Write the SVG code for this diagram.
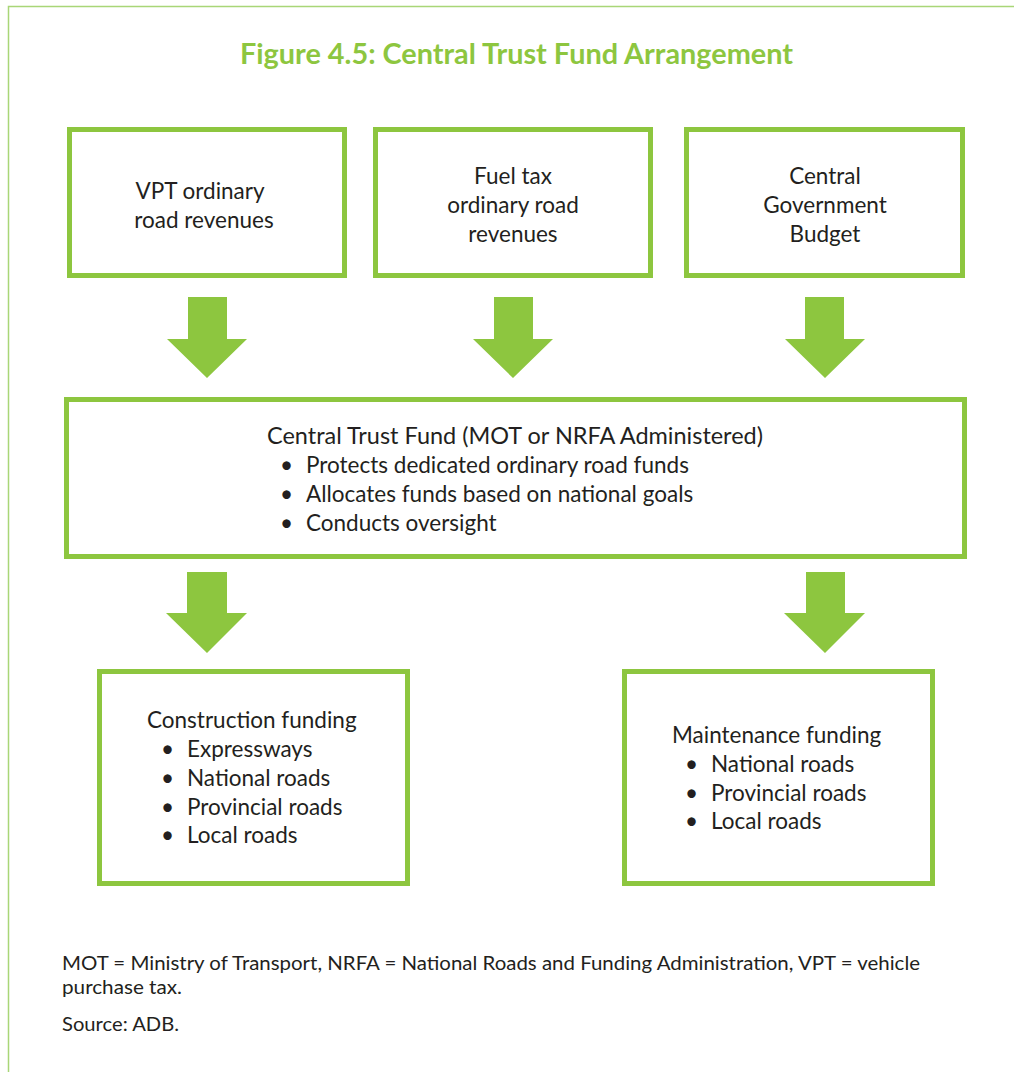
<svg xmlns="http://www.w3.org/2000/svg" width="1014" height="1072" viewBox="0 0 1014 1072">
  <style>
    .frame { fill: none; stroke: #a9d677; stroke-width: 1.5; }
    .box { fill: #ffffff; stroke: #8dc63f; stroke-width: 5; }
    .arrow { fill: #8dc63f; }
    .title { font-family: Lato, "Open Sans", sans-serif; font-weight: bold; font-size: 28.5px; fill: #8dc63f; }
    .label { font-family: Lato, "Open Sans", sans-serif; font-size: 22.5px; fill: #231f20; }
    .note { font-family: Lato, "Open Sans", sans-serif; font-size: 18.5px; fill: #231f20; }
  </style>
  <rect width="1014" height="1072" fill="#ffffff"/>

  <!-- outer frame: top and left rules only -->
  <path class="frame" d="M1014 6.5 H8.5 V1072"/>

  <text class="title" x="240" y="64" textLength="553" lengthAdjust="spacingAndGlyphs">Figure 4.5: Central Trust Fund Arrangement</text>

  <!-- source boxes -->
  <g id="vpt">
    <rect class="box" x="69.5" y="129.5" width="275" height="146"/>
    <text class="label" text-anchor="middle"><tspan x="200" y="199">VPT ordinary</tspan><tspan x="204" y="228">road revenues</tspan></text>
  </g>
  <g id="fuel-tax">
    <rect class="box" x="375.5" y="129.5" width="275" height="146"/>
    <text class="label" text-anchor="middle"><tspan x="513" y="184">Fuel tax</tspan><tspan x="513" y="213">ordinary road</tspan><tspan x="513" y="242">revenues</tspan></text>
  </g>
  <g id="govt-budget">
    <rect class="box" x="686.5" y="129.5" width="276" height="146"/>
    <text class="label" text-anchor="middle"><tspan x="825" y="184">Central</tspan><tspan x="825" y="213">Government</tspan><tspan x="825" y="242">Budget</tspan></text>
  </g>

  <!-- central fund -->
  <g id="central-trust-fund">
    <rect class="box" x="66.5" y="399.5" width="898" height="157"/>
    <text class="label" x="267" y="444" textLength="496" lengthAdjust="spacingAndGlyphs">Central Trust Fund (MOT or NRFA Administered)</text>
    <text class="label">
      <tspan x="280" y="473">•</tspan><tspan x="306" y="473">Protects dedicated ordinary road funds</tspan>
      <tspan x="280" y="502">•</tspan><tspan x="306" y="502">Allocates funds based on national goals</tspan>
      <tspan x="280" y="531">•</tspan><tspan x="306" y="531">Conducts oversight</tspan>
    </text>
  </g>

  <!-- funding outputs -->
  <g id="construction-funding">
    <rect class="box" x="99.5" y="671.5" width="308" height="212"/>
    <text class="label"><tspan x="147" y="728">Construction funding</tspan></text>
    <text class="label">
      <tspan x="161" y="757">•</tspan><tspan x="187" y="757">Expressways</tspan>
      <tspan x="161" y="786">•</tspan><tspan x="187" y="786">National roads</tspan>
      <tspan x="161" y="815">•</tspan><tspan x="187" y="815">Provincial roads</tspan>
      <tspan x="161" y="843">•</tspan><tspan x="187" y="843">Local roads</tspan>
    </text>
  </g>
  <g id="maintenance-funding">
    <rect class="box" x="624.5" y="671.5" width="308" height="212"/>
    <text class="label"><tspan x="672" y="743">Maintenance funding</tspan></text>
    <text class="label">
      <tspan x="685" y="772">•</tspan><tspan x="711" y="772">National roads</tspan>
      <tspan x="685" y="801">•</tspan><tspan x="711" y="801">Provincial roads</tspan>
      <tspan x="685" y="829">•</tspan><tspan x="711" y="829">Local roads</tspan>
    </text>
  </g>

  <!-- block arrows -->
  <g id="connectors">
    <path class="arrow" d="M188 297 H227 V339 H247 L207 378 L167 339 H188 Z"/>
    <path class="arrow" d="M494 297 H533 V339 H553 L513 378 L473 339 H494 Z"/>
    <path class="arrow" d="M805 297 H844 V339 H865 L825 378 L785 339 H805 Z"/>
    <path class="arrow" d="M187 572 H227 V613 H247 L207 653 L166 613 H187 Z"/>
    <path class="arrow" d="M806 572 H845 V613 H865 L825 653 L784 613 H806 Z"/>
  </g>

  <!-- notes -->
  <text class="note" x="62" y="970" textLength="858" lengthAdjust="spacingAndGlyphs">MOT = Ministry of Transport, NRFA = National Roads and Funding Administration, VPT = vehicle</text>
  <text class="note" x="62" y="994" textLength="120" lengthAdjust="spacingAndGlyphs">purchase tax.</text>
  <text class="note" x="62" y="1031" textLength="117" lengthAdjust="spacingAndGlyphs">Source: ADB.</text>
</svg>
